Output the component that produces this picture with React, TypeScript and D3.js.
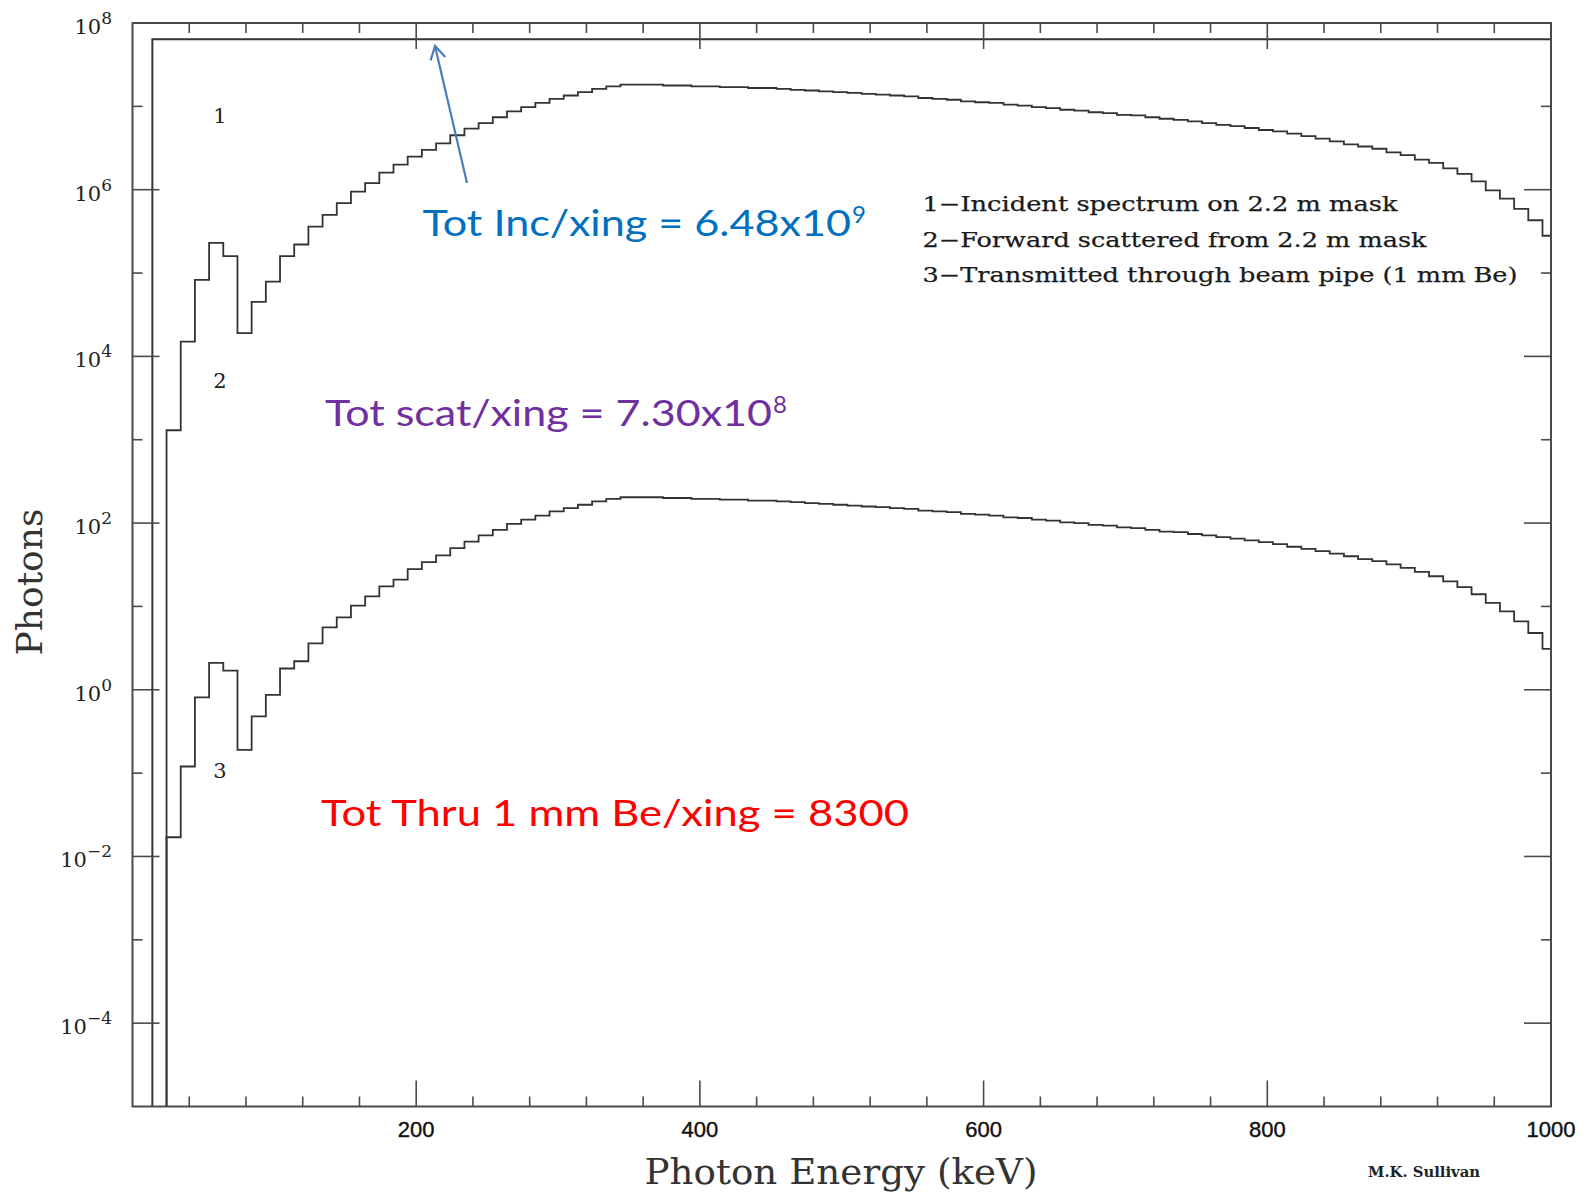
import React from "react";
import * as d3 from "d3";

// ---------------- data ----------------
// Spectrum 1: incident spectrum (flat), one wide bin (keV edges)
const incidentEdges = [14, 1000];
const incidentValues = [6.4e7];

// Spectra 2 and 3: 10 keV bins, first lower edge at 24 keV
const binLowEdges = d3.range(24, 1004, 10);
const scatteredValues = [
  1.3e3, 1.5e4, 8.3e4, 2.3e5, 1.6e5, 1.9e4, 4.5e4, 7.9e4, 1.6e5, 2.2e5,
  3.6e5, 5.0e5, 6.9e5, 9.5e5, 1.2e6, 1.6e6, 2.0e6, 2.5e6, 3.0e6, 3.6e6,
  4.5e6, 5.4e6, 6.3e6, 7.4e6, 8.7e6, 9.8e6, 1.1e7, 1.23e7, 1.35e7, 1.48e7,
  1.62e7, 1.74e7, 1.82e7, 1.82e7, 1.82e7, 1.78e7, 1.78e7, 1.74e7, 1.74e7, 1.7e7,
  1.7e7, 1.66e7, 1.66e7, 1.62e7, 1.58e7, 1.55e7, 1.51e7, 1.48e7, 1.45e7, 1.41e7,
  1.38e7, 1.35e7, 1.32e7, 1.26e7, 1.23e7, 1.2e7, 1.15e7, 1.12e7, 1.1e7, 1.05e7,
  1.02e7, 9.8e6, 9.5e6, 9.1e6, 8.9e6, 8.5e6, 8.3e6, 7.9e6, 7.8e6, 7.4e6,
  7.1e6, 6.9e6, 6.6e6, 6.3e6, 6.0e6, 5.8e6, 5.5e6, 5.2e6, 5.0e6, 4.7e6,
  4.4e6, 4.1e6, 3.8e6, 3.5e6, 3.3e6, 3.1e6, 2.8e6, 2.6e6, 2.3e6, 2.1e6,
  1.8e6, 1.55e6, 1.26e6, 9.8e5, 7.8e5, 5.9e5, 4.3e5, 2.8e5,
];
const transmittedValues = [
  0.017, 0.12, 0.81, 2.1, 1.7, 0.19, 0.48, 0.87, 1.8, 2.2,
  3.6, 5.6, 7.4, 10.2, 13.2, 17.4, 21, 28, 34, 41,
  50, 60, 71, 83, 98, 110, 123, 138, 151, 166,
  182, 195, 204, 204, 204, 200, 200, 195, 195, 191,
  191, 186, 186, 182, 178, 174, 170, 166, 162, 158,
  155, 151, 148, 141, 138, 135, 129, 126, 123, 117,
  115, 110, 107, 102, 100, 95, 93, 89, 87, 83,
  79, 78, 74, 71, 68, 65, 62, 59, 56, 52,
  49, 46, 43, 40, 37, 35, 32, 29, 26, 23,
  20, 17, 14, 11, 8.7, 6.6, 4.8, 3.1,
];

const xMajorTicks = [200, 400, 600, 800];
const xTickLabels = [200, 400, 600, 800, 1000];
const xMinorTicks = [40, 80, 120, 160, 240, 280, 320, 360, 440, 480, 520, 560, 640, 680, 720, 760, 840, 880, 920, 960];
const yMajorExponents = [8, 6, 4, 2, 0, -2, -4];
const yMinorExponents = [7, 5, 3, 1, -1, -3];

const legendLines = [
  "1\u2212Incident spectrum on 2.2 m mask",
  "2\u2212Forward scattered from 2.2 m mask",
  "3\u2212Transmitted through beam pipe (1 mm Be)",
];

// ---------------- layout ----------------
const W = 1593;
const H = 1192;
const L = 132.5, R = 1551, T = 23, B = 1106.5;

const x = d3.scaleLinear().domain([0, 1000]).range([L, R]);
const y = d3.scaleLog().domain([1e-5, 1e8]).range([B, T]);

function stepPath(edges: number[], values: number[]) {
  const pts: [number, number][] = [[x(edges[0]), B]];
  values.forEach((v, i) => {
    const e1 = Math.min(edges[i + 1] ?? edges[i] + 10, 1000);
    pts.push([x(edges[i]), y(v)]);
    pts.push([x(e1), y(v)]);
  });
  return d3.line()(pts) || "";
}

const fmtExp = (e: number) => (e < 0 ? "\u2212" + -e : String(e));

export default function App() {
  const edges23 = [...binLowEdges, 1004];
  const frameColor = "#4a4a4a";
  const lineColor = "#333";
  const serif = "'DejaVu Serif', serif";
  const sans = "'Liberation Sans', Arial, sans-serif";
  const calib = "Lato, 'Noto Sans', sans-serif";

  // arrow geometry
  const ax0 = 467, ay0 = 183, ax1 = 435, ay1 = 46;
  const ang = Math.atan2(ay0 - ay1, ax0 - ax1);
  const barb = (a: number) => [ax1 + 15 * Math.cos(ang + a), ay1 + 15 * Math.sin(ang + a)];
  const b1 = barb(Math.PI / 6);
  const b2 = barb(-Math.PI / 6);

  return (
    <svg
      width={W}
      height={H}
      style={{ position: "absolute", left: 0, top: 0, background: "#fff" }}
      xmlns="http://www.w3.org/2000/svg"
    >
      <rect x={0} y={0} width={W} height={H} fill="#fff" />

      {/* histograms */}
      <path d={stepPath(incidentEdges, incidentValues)} fill="none" stroke={lineColor} strokeWidth={2} />
      <path d={stepPath(edges23, scatteredValues)} fill="none" stroke={lineColor} strokeWidth={1.8} />
      <path d={stepPath(edges23, transmittedValues)} fill="none" stroke={lineColor} strokeWidth={1.8} />

      {/* frame */}
      <rect x={L} y={T} width={R - L} height={B - T} fill="none" stroke={frameColor} strokeWidth={2} />

      {/* x ticks bottom & top */}
      {xMajorTicks.map((t) => (
        <g key={"xM" + t}>
          <line x1={x(t)} x2={x(t)} y1={B} y2={B - 26} stroke={frameColor} strokeWidth={1.6} />
          <line x1={x(t)} x2={x(t)} y1={T} y2={T + 26} stroke={frameColor} strokeWidth={1.6} />
        </g>
      ))}
      {xMinorTicks.map((t) => (
        <g key={"xm" + t}>
          <line x1={x(t)} x2={x(t)} y1={B} y2={B - 10} stroke={frameColor} strokeWidth={1.6} />
          <line x1={x(t)} x2={x(t)} y1={T} y2={T + 10} stroke={frameColor} strokeWidth={1.6} />
        </g>
      ))}

      {/* y ticks left & right */}
      {yMajorExponents.map((e) => (
        <g key={"yM" + e}>
          <line x1={L} x2={L + 27} y1={y(10 ** e)} y2={y(10 ** e)} stroke={frameColor} strokeWidth={1.6} />
          <line x1={R} x2={R - 27} y1={y(10 ** e)} y2={y(10 ** e)} stroke={frameColor} strokeWidth={1.6} />
        </g>
      ))}
      {yMinorExponents.map((e) => (
        <g key={"ym" + e}>
          <line x1={L} x2={L + 10} y1={y(10 ** e)} y2={y(10 ** e)} stroke={frameColor} strokeWidth={1.6} />
          <line x1={R} x2={R - 10} y1={y(10 ** e)} y2={y(10 ** e)} stroke={frameColor} strokeWidth={1.6} />
        </g>
      ))}

      {/* y tick labels */}
      {yMajorExponents.map((e) => (
        <text
          key={"yl" + e}
          x={112}
          y={y(10 ** e) + 11}
          textAnchor="end"
          fontFamily={serif}
          fontSize={21}
          fill="#222"
        >
          10
          <tspan dy={-10} fontSize={17}>
            {fmtExp(e)}
          </tspan>
        </text>
      ))}

      {/* x tick labels */}
      {xTickLabels.map((t) => (
        <text
          key={"xl" + t}
          x={x(t)}
          y={1137}
          textAnchor="middle"
          fontFamily={sans}
          fontSize={22}
          fill="#111"
          stroke="#111"
          strokeWidth={0.4}
        >
          {t}
        </text>
      ))}

      {/* axis titles */}
      <text x={841} y={1184} textAnchor="middle" fontFamily={serif} fontSize={36} fill="#333" textLength={393} lengthAdjust="spacingAndGlyphs">
        Photon Energy (keV)
      </text>
      <text
        transform="translate(42,582) rotate(-90)"
        textAnchor="middle"
        fontFamily={serif}
        fontSize={36}
        fill="#333"
      >
        Photons
      </text>

      {/* curve labels */}
      <text x={220} y={123} textAnchor="middle" fontFamily={serif} fontSize={21} fill="#222">1</text>
      <text x={220} y={388} textAnchor="middle" fontFamily={serif} fontSize={21} fill="#222">2</text>
      <text x={220} y={778} textAnchor="middle" fontFamily={serif} fontSize={21} fill="#222">3</text>

      {/* legend */}
      {legendLines.map((s, i) => (
        <text
          key={"lg" + i}
          x={922.5}
          y={211 + i * 35.5}
          fontFamily={serif}
          fontSize={20.5}
          fill="#1a1a1a"
          stroke="#1a1a1a"
          strokeWidth={0.25}
          textLength={[475, 504, 595][i]}
          lengthAdjust="spacingAndGlyphs"
        >
          {s}
        </text>
      ))}

      {/* annotations */}
      <line x1={ax0} y1={ay0} x2={ax1} y2={ay1} stroke="#4A7EBB" strokeWidth={2.2} />
      <polyline
        points={`${b1[0]},${b1[1]} ${ax1},${ay1} ${b2[0]},${b2[1]}`}
        fill="none"
        stroke="#4A7EBB"
        strokeWidth={2.2}
      />

      <text x={422.6} y={236} fontFamily={calib} fontSize={37} fill="#0070C0" textLength={428.5} lengthAdjust="spacingAndGlyphs">
        Tot Inc/xing = 6.48x10
      </text>
      <text x={852} y={223} fontFamily={calib} fontSize={24} fill="#0070C0">9</text>

      <text x={325} y={426} fontFamily={calib} fontSize={37} fill="#7030A0" textLength={447} lengthAdjust="spacingAndGlyphs">
        Tot scat/xing = 7.30x10
      </text>
      <text x={773} y={413} fontFamily={calib} fontSize={24} fill="#7030A0">8</text>

      <text x={321} y={826} fontFamily={calib} fontSize={37} fill="#FF0000" textLength={588} lengthAdjust="spacingAndGlyphs">
        Tot Thru 1 mm Be/xing = 8300
      </text>

      {/* author */}
      <text x={1368} y={1177} fontFamily={serif} fontWeight="bold" fontSize={15} fill="#222" textLength={112} lengthAdjust="spacingAndGlyphs">
        M.K. Sullivan
      </text>
    </svg>
  );
}
